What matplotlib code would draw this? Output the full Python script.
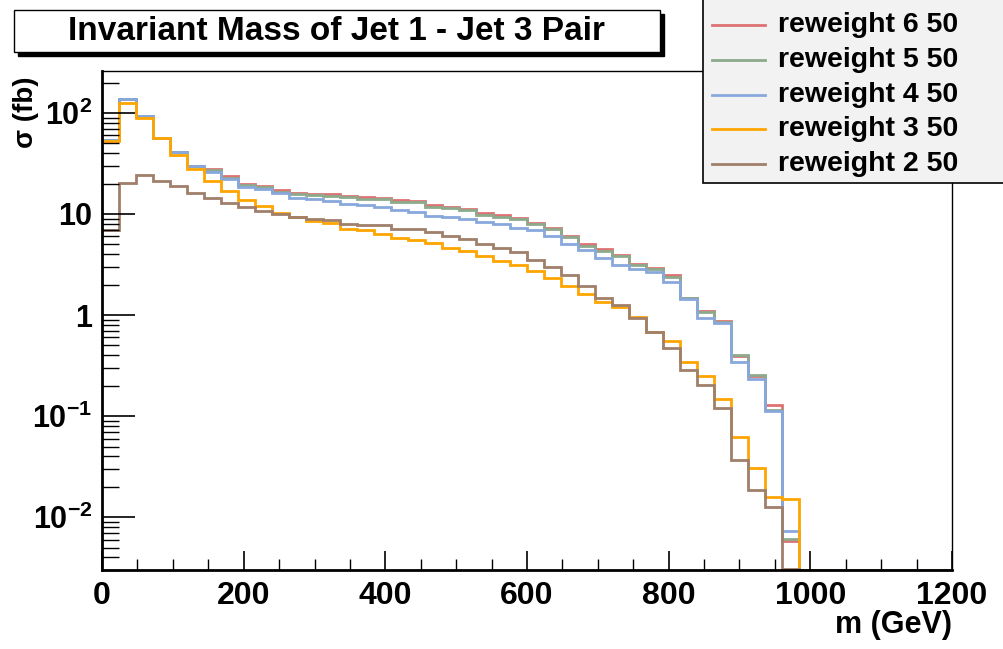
import numpy as np
import matplotlib.pyplot as plt
from matplotlib.patches import Rectangle
from matplotlib.lines import Line2D

plt.rcParams['font.family'] = ['Liberation Sans', 'DejaVu Sans']
plt.rcParams['font.weight'] = 'bold'
plt.rcParams['mathtext.fontset'] = 'custom'
plt.rcParams['mathtext.rm'] = 'Liberation Sans:bold'
plt.rcParams['mathtext.bf'] = 'Liberation Sans:bold'
plt.rcParams['mathtext.default'] = 'bf'

# 50 bins of 24 GeV from 0 to 1200
edges = np.arange(0, 1201, 24)

rw6 = [54, 137, 94, 56, 41, 29.7, 28.0, 23.5, 19.8, 19.0, 17.2, 16.1, 15.9, 15.6, 15.1,
       14.6, 14.4, 13.6, 13.5, 12.2, 11.8, 11.2, 10.2, 9.8, 9.1, 8.2, 7.3, 6.1, 5.0,
       4.5, 3.9, 3.2, 2.95, 2.5, 1.48, 1.1, 0.88, 0.39, 0.25, 0.128, 0.0058,
       0, 0, 0, 0, 0, 0, 0, 0, 0]
rw5 = [54, 137, 94, 56, 41, 29.7, 27.3, 22.9, 19.2, 18.4, 16.6, 15.6, 15.4, 15.1, 14.6,
       14.1, 14.0, 13.1, 13.0, 11.8, 11.4, 10.9, 9.8, 9.4, 8.9, 8.0, 7.05, 5.97, 4.82,
       4.35, 3.8, 3.13, 2.85, 2.4, 1.46, 1.08, 0.86, 0.40, 0.255, 0.116, 0.0061,
       0, 0, 0, 0, 0, 0, 0, 0, 0]
rw4 = [54, 137, 94, 56, 41, 29.7, 26.2, 22.2, 18.6, 17.5, 16.0, 14.5, 14.0, 13.4, 12.6,
       12.3, 11.6, 11.0, 10.5, 9.6, 9.4, 8.9, 8.4, 7.9, 7.2, 6.95, 6.0, 5.1, 4.4,
       3.7, 3.1, 2.83, 2.64, 2.14, 1.45, 0.93, 0.83, 0.345, 0.232, 0.113, 0.0073,
       0, 0, 0, 0, 0, 0, 0, 0, 0]
rw3 = [53, 126, 89, 56, 38.6, 27.7, 21.2, 16.9, 13.8, 12.0, 10.2, 9.3, 8.6, 8.1, 7.1,
       6.9, 6.4, 5.8, 5.5, 5.2, 4.64, 4.3, 3.87, 3.45, 3.13, 2.75, 2.31, 1.95, 1.61,
       1.36, 1.21, 0.95, 0.68, 0.557, 0.34, 0.25, 0.147, 0.062, 0.031, 0.0158, 0.015,
       0, 0, 0, 0, 0, 0, 0, 0, 0]
rw2 = [6.9, 20.4, 24.2, 21.2, 18.9, 16.0, 14.3, 12.8, 11.6, 10.8, 10.0, 9.4, 8.9, 8.8, 8.0,
       7.8, 7.7, 7.05, 7.05, 6.7, 6.1, 5.65, 5.1, 4.57, 4.17, 3.5, 2.97, 2.49, 1.94,
       1.46, 1.26, 0.93, 0.68, 0.475, 0.285, 0.203, 0.121, 0.037, 0.0185, 0.0126, 0.0031,
       0, 0, 0, 0, 0, 0, 0, 0, 0]

labels = ['reweight 6 50', 'reweight 5 50', 'reweight 4 50', 'reweight 3 50', 'reweight 2 50']
colors = ['#de7272', '#8caa8c', '#88a8dc', '#ffa500', '#a07f6b']
series = [rw6, rw5, rw4, rw3, rw2]

ymin, ymax = 0.003, 260

fig = plt.figure(figsize=(10.04, 6.49), dpi=100)
ax = fig.add_axes([102 / 1004, 1 - 570 / 649, 850 / 1004, 499 / 649])

for vals, col in zip(series, colors):
    v = np.asarray(vals, dtype=float)
    v = np.where(v > 0, v, ymin * 0.999)   # empty bins sit on the bottom like ROOT
    ax.stairs(v, edges, baseline=None, color=col, lw=2.0)

ax.set_yscale('log')
ax.set_xlim(0, 1200)
ax.set_ylim(ymin, ymax)

ax.set_xticks(np.arange(0, 1201, 200))
ax.set_xticks(np.arange(0, 1201, 50), minor=True)
ax.set_yticks([1e-2, 1e-1, 1, 10, 100])
ax.set_yticklabels([r'$10^{-2}$', r'$10^{-1}$', '1', '10', r'$10^{2}$'])
ax.tick_params(axis='both', which='major', direction='in', labelsize=23, width=1.2)
ax.tick_params(axis='x', which='major', length=14, pad=8)
ax.tick_params(axis='x', which='minor', direction='in', length=8, width=1)
ax.tick_params(axis='y', which='major', length=24, pad=7, labelsize=22)
ax.tick_params(axis='y', which='minor', direction='in', length=12, width=1, labelleft=False)
for lab in ax.get_xticklabels() + ax.get_yticklabels():
    lab.set_fontweight('bold')

ax.spines['left'].set_linewidth(2)
ax.spines['bottom'].set_linewidth(2)
ax.spines['top'].set_linewidth(1)
ax.spines['right'].set_linewidth(1)

W, H = 1004, 649
fig.text(952 / W, 1 - 625 / H, 'm (GeV)', ha='right', va='center', fontsize=22, fontweight='bold')
fig.text(26 / W, 1 - 112 / H, 'σ (fb)', ha='center', va='center', rotation=90,
         fontsize=20, fontweight='bold')

# title box with shadow
fig.patches.append(Rectangle((18 / W, 1 - 56 / H), 646 / W, 42 / H, transform=fig.transFigure,
                             facecolor='black', edgecolor='black', zorder=1))
fig.patches.append(Rectangle((14 / W, 1 - 52 / H), 646 / W, 42 / H, transform=fig.transFigure,
                             facecolor='white', edgecolor='black', lw=1, zorder=2))
fig.text(337 / W, 1 - 32 / H, 'Invariant Mass of Jet 1 - Jet 3 Pair', ha='center', va='center',
         fontsize=24, fontweight='bold', zorder=3)

# legend box
fig.patches.append(Rectangle((703 / W, 1 - 183 / H), 305 / W, 185 / H, transform=fig.transFigure,
                             facecolor='#f2f2f2', edgecolor='black', lw=1.2, zorder=4))
for i, (lab, col) in enumerate(zip(labels, colors)):
    yy = 1 - (25 + 34.8 * i) / H
    fig.lines.append(Line2D([712 / W, 765 / W], [yy, yy], transform=fig.transFigure,
                            color=col, lw=2, zorder=5))
    fig.text(778 / W, yy, lab, ha='left', va='center', fontsize=20.5, fontweight='bold', zorder=6)

fig.savefig('out.png', dpi=100)
